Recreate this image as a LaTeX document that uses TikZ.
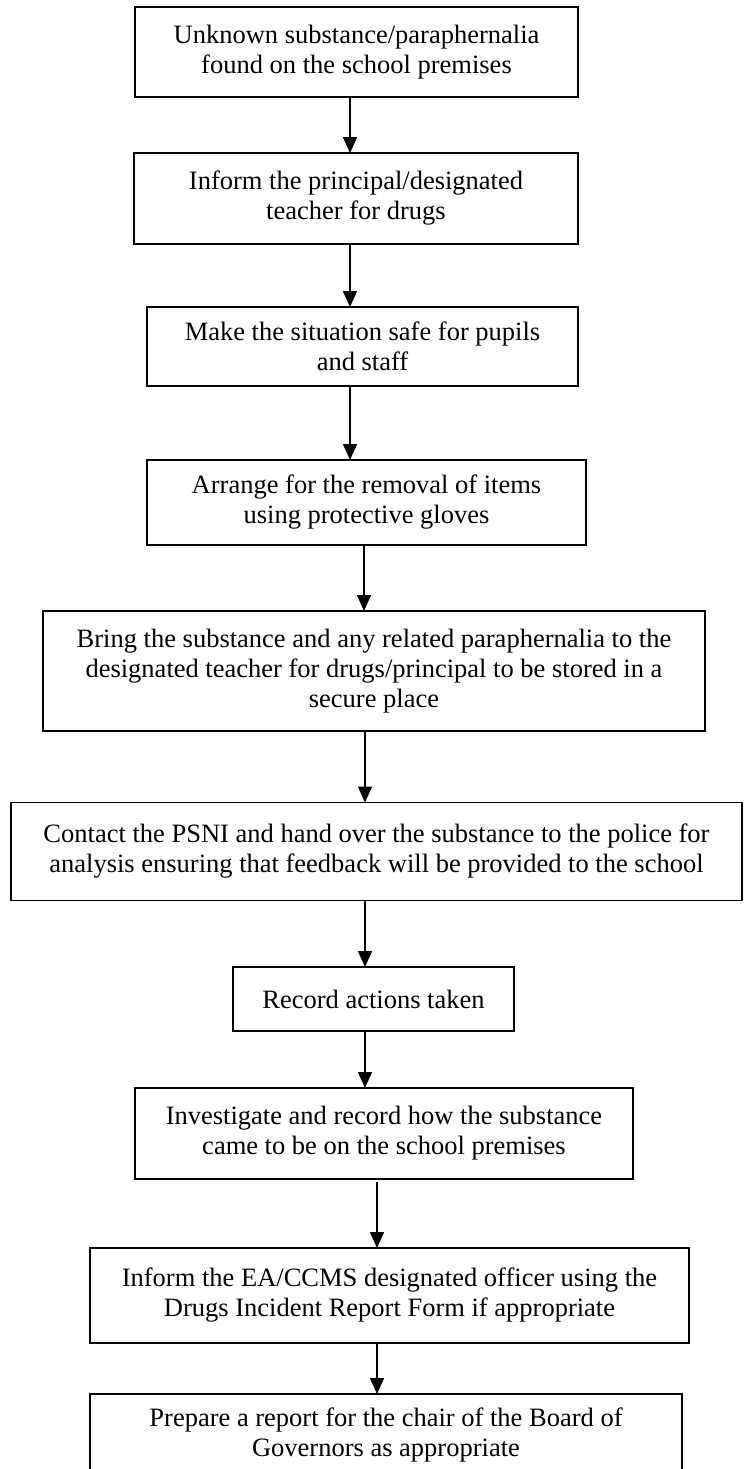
\documentclass[tikz,border=0pt]{standalone}
\usepackage{fontspec}
\setmainfont{Liberation Serif}
\usetikzlibrary{arrows.meta}

\begin{document}
\begin{tikzpicture}[x=0.5pt,y=-0.5pt]

	\tikzstyle{every node}=[font=\fontsize{13.25pt}{15pt}\selectfont]
	\tikzstyle{stepbox}=[draw, line width=0.7pt, inner sep=0pt, outer sep=0pt, align=center]
	\tikzstyle{flow}=[line width=0.8pt, -{Triangle[length=8pt,width=7pt]}]

	\useasboundingbox (0,0) rectangle (744,1469);

	\node[stepbox, minimum width=221.5pt, minimum height=45pt] (found) at (356.5,52) {Unknown substance/paraphernalia\\found on the school premises};
	\node[stepbox, minimum width=222pt, minimum height=45.5pt] (inform) at (356,198.5) {Inform the principal/designated\\teacher for drugs};
	\node[stepbox, minimum width=215.5pt, minimum height=39.5pt] (safe) at (362.5,346.5) {Make the situation safe for pupils\\and staff};
	\node[stepbox, minimum width=219.5pt, minimum height=42.5pt] (remove) at (366.5,502.5) {Arrange for the removal of items\\using protective gloves};
	\node[stepbox, minimum width=331pt, minimum height=60pt] (store) at (374,671) {Bring the substance and any related paraphernalia to the\\designated teacher for drugs/principal to be stored in a\\secure place};
	\node[stepbox, minimum width=365.5pt, minimum height=49pt] (police) at (376.5,851.5) {Contact the PSNI and hand over the substance to the police for\\analysis ensuring that feedback will be provided to the school};
	\node[stepbox, minimum width=140.5pt, minimum height=32pt] (record) at (373.5,999) {Record actions taken};
	\node[stepbox, minimum width=249pt, minimum height=45.5pt] (investigate) at (384,1133.5) {Investigate and record how the substance\\came to be on the school premises};
	\node[stepbox, minimum width=299.5pt, minimum height=47.5pt] (eaccms) at (389.5,1295.5) {Inform the EA/CCMS designated officer using the\\Drugs Incident Report Form if appropriate};
	\node[stepbox, minimum width=296pt, minimum height=41pt] (report) at (386,1435) {Prepare a report for the chair of the Board of\\Governors as appropriate};

	\draw[flow] (found.south -| 350,0) -- (inform.north -| 350,0);
	\draw[flow] (inform.south -| 350,0) -- (safe.north -| 350,0);
	\draw[flow] (safe.south -| 350,0) -- (remove.north -| 350,0);
	\draw[flow] (remove.south -| 364,0) -- (store.north -| 364,0);
	\draw[flow] (store.south -| 365,0) -- (police.north -| 365,0);
	\draw[flow] (police.south -| 365,0) -- (record.north -| 365,0);
	\draw[flow] (record.south -| 365,0) -- (investigate.north -| 365,0);
	\draw[flow, shorten <=1.5pt] (investigate.south -| 377,0) -- (eaccms.north -| 377,0);
	\draw[flow] (eaccms.south -| 377,0) -- (report.north -| 377,0);

\end{tikzpicture}
\end{document}
